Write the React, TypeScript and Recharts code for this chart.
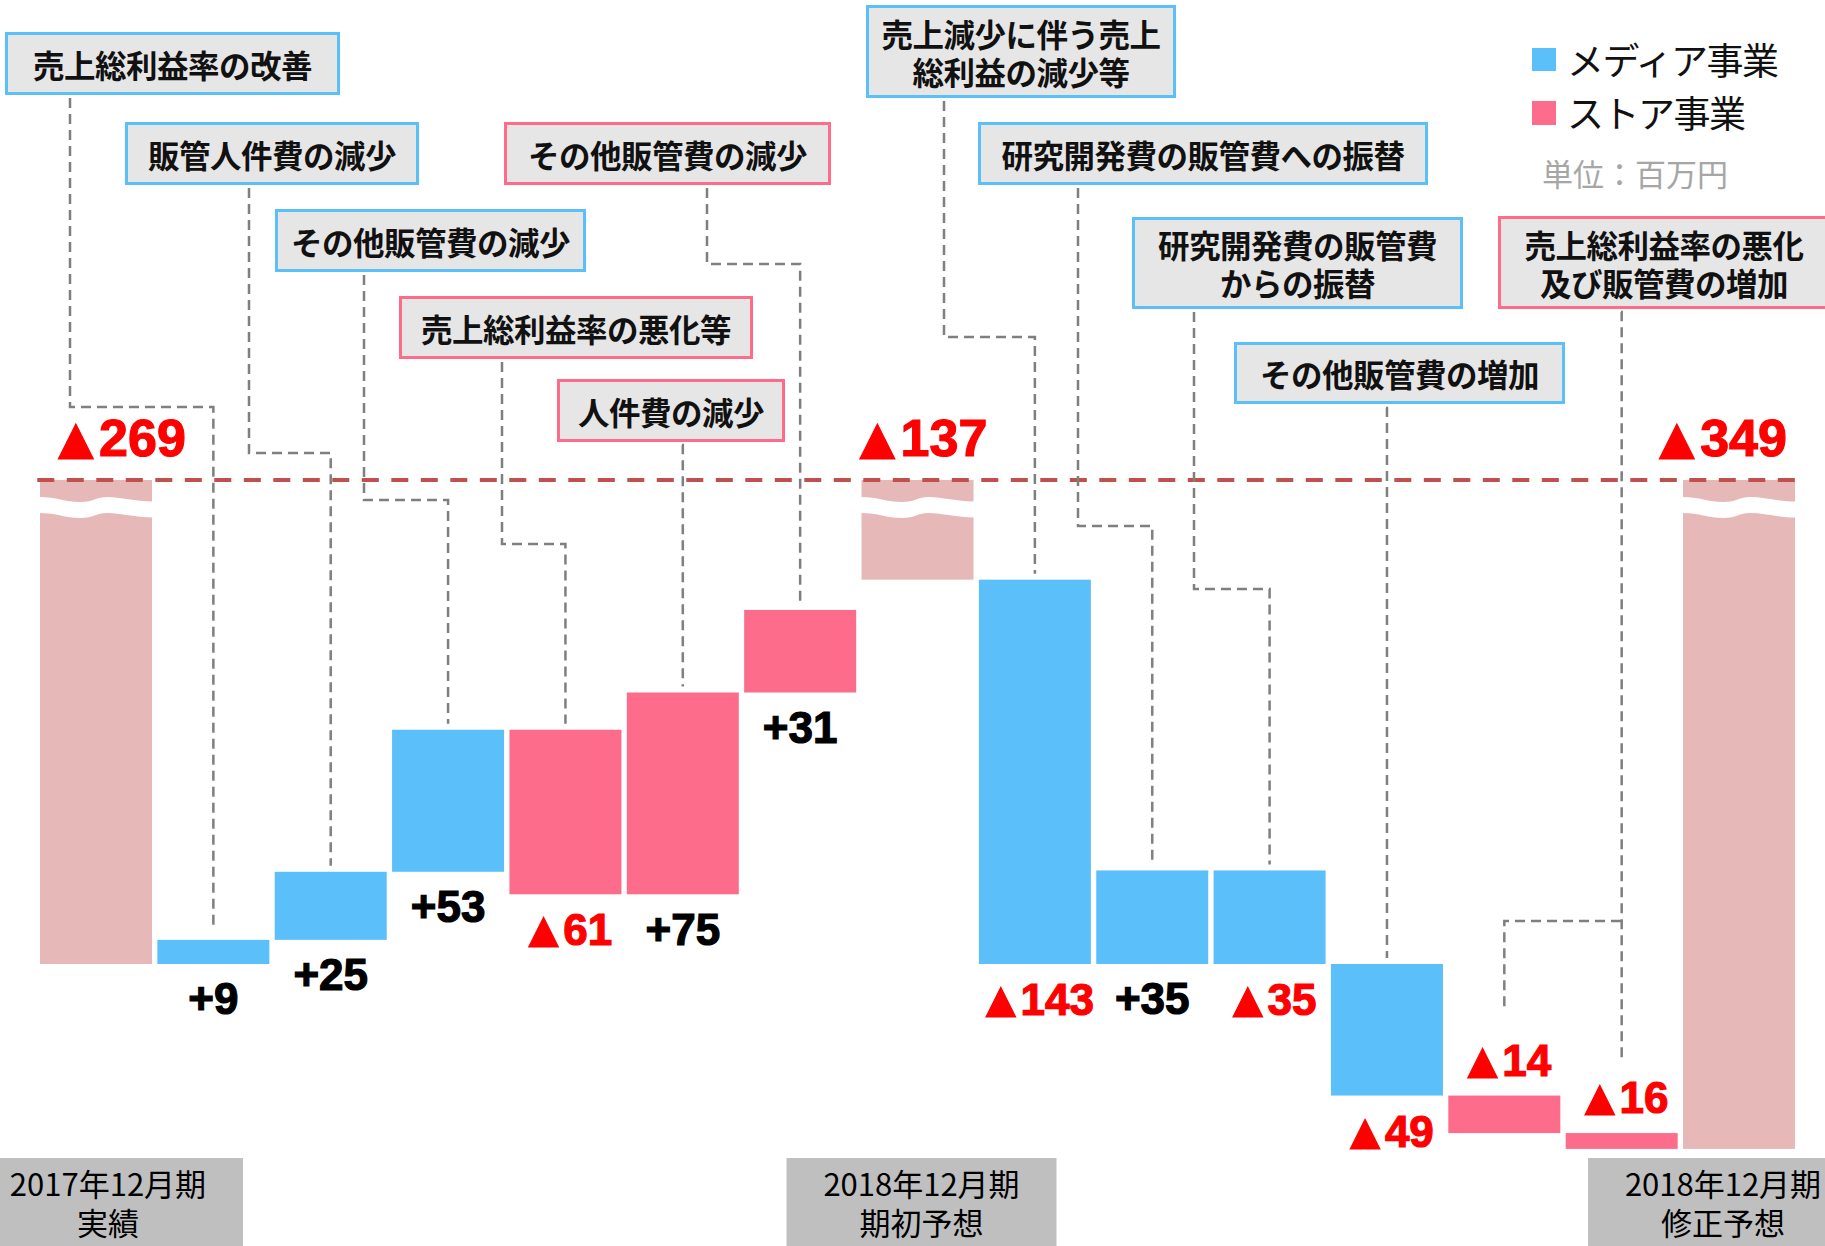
import { Bar, BarChart, LabelList, ReferenceLine, XAxis, YAxis } from "recharts";

// one entry per bar, left to right
const categories = [
  "2017年12月期|実績",
  "売上総利益率の改善",
  "販管人件費の減少",
  "その他販管費の減少",
  "売上総利益率の悪化等",
  "人件費の減少",
  "その他販管費の減少",
  "2018年12月期|期初予想",
  "売上減少に伴う売上総利益の減少等",
  "研究開発費の販管費への振替",
  "研究開発費の販管費からの振替",
  "その他販管費の増加",
  "売上総利益率の悪化",
  "販管費の増加",
  "2018年12月期|修正予想",
];
const segments = [
  "total", "media", "media", "media", "store", "store", "store", "total",
  "media", "media", "media", "media", "store", "store", "total",
];
const valueLabels = [
  "▲269", "+9", "+25", "+53", "▲61", "+75", "+31", "▲137",
  "▲143", "+35", "▲35", "▲49", "▲14", "▲16", "▲349",
];
// the totals are drawn broken at this level (the red dashed line)
const BREAK_LEVEL = -88.4;
// bar extents as drawn in the picture (百万円)
const lows = [
  -269, -269, -260, -234.6, -243, -243, -167.7, -125.6,
  -269, -269, -269, -318.1, -332.1, -338, -338,
];
const highs = [
  BREAK_LEVEL, -260, -234.6, -181.6, -181.6, -167.7, -136.9, BREAK_LEVEL,
  -125.6, -234.1, -234.1, -269, -318.1, -332.1, BREAK_LEVEL,
];

const COLORS: Record<string, string> = {
  media: "#5BC0F9",
  store: "#FD6C8B",
  total: "#E6B8B7",
};
const BORDER: Record<string, string> = {
  media: "#5BC0F8",
  store: "#FF6C8A",
};

const data = categories.map((name, i) => ({
  name,
  range: [lows[i], highs[i]],
  label: valueLabels[i],
  kind: segments[i],
}));

// callout boxes (page layout)
const BOXES = [
  { text: "売上総利益率の改善", kind: "media", left: 5, top: 32, width: 335, height: 63 },
  { text: "販管人件費の減少", kind: "media", left: 125, top: 122, width: 294, height: 63 },
  { text: "その他販管費の減少", kind: "media", left: 275, top: 209, width: 311, height: 63 },
  { text: "売上総利益率の悪化等", kind: "store", left: 399, top: 296, width: 354, height: 63 },
  { text: "人件費の減少", kind: "store", left: 557, top: 379, width: 228, height: 63 },
  { text: "その他販管費の減少", kind: "store", left: 504, top: 122, width: 327, height: 63 },
  { text: "売上減少に伴う売上\n総利益の減少等", kind: "media", left: 866, top: 5, width: 310, height: 93 },
  { text: "研究開発費の販管費への振替", kind: "media", left: 978, top: 122, width: 450, height: 63 },
  { text: "研究開発費の販管費\nからの振替", kind: "media", left: 1132, top: 217, width: 331, height: 92 },
  { text: "その他販管費の増加", kind: "media", left: 1234, top: 342, width: 331, height: 62 },
  { text: "売上総利益率の悪化\n及び販管費の増加", kind: "store", left: 1498, top: 216, width: 332, height: 93 },
];

// dashed leader from a box down to its bar: start point, elbow height, gap above bar top
const LEADERS: Record<number, { fx: number; fy: number; ey: number; gap: number }> = {
  1: { fx: 70, fy: 98, ey: 407, gap: 10 },
  2: { fx: 249, fy: 188, ey: 453, gap: 6 },
  3: { fx: 364, fy: 275, ey: 500, gap: 6 },
  4: { fx: 502, fy: 362, ey: 544, gap: 6 },
  5: { fx: 682, fy: 445, ey: 445, gap: 6 },
  6: { fx: 707, fy: 188, ey: 264, gap: 6 },
  8: { fx: 944, fy: 101, ey: 337, gap: 6 },
  9: { fx: 1078, fy: 188, ey: 526, gap: 6 },
  10: { fx: 1194, fy: 312, ey: 589, gap: 6 },
  11: { fx: 1386, fy: 408, ey: 408, gap: 6 },
  12: { fx: 1621, fy: 921, ey: 921, gap: 86 },
  13: { fx: 1621, fy: 312, ey: 312, gap: 74 },
};

const TICK_SHIFT: Record<number, number> = { 0: 12, 7: 4, 14: -16 };
const LABEL_SHIFT: Record<number, number> = { 0: 20, 14: -22 };

const NUM_FONT = "'Liberation Sans', Arial, sans-serif";
const JP_FONT = "'Noto Sans CJK JP', 'Noto Sans', sans-serif";

function geom(props: any) {
  const vb = props.viewBox && props.viewBox.width != null ? props.viewBox : props;
  const top = Math.min(vb.y, vb.y + vb.height);
  return { x: vb.x, top, width: vb.width, height: Math.abs(vb.height) };
}

function WaterfallBar(props: any) {
  const { x, width, payload } = props;
  const top = Math.min(props.y, props.y + props.height);
  const h = Math.abs(props.height);
  const fill = COLORS[payload.kind];
  if (payload.kind !== "total") {
    return <rect x={x} y={top} width={width} height={h} fill={fill} />;
  }
  const w = width;
  const t = top + 17;
  const b = t + 16;
  const wave =
    `M${x - 1},${t} C${x + 0.15 * w},${t} ${x + 0.22 * w},${t + 5} ${x + 0.36 * w},${t + 5} ` +
    `C${x + 0.48 * w},${t + 5} ${x + 0.5 * w},${t} ${x + 0.6 * w},${t} ` +
    `C${x + 0.72 * w},${t} ${x + 0.85 * w},${t + 4.5} ${x + w + 1},${t + 4.5} ` +
    `L${x + w + 1},${b + 4.5} ` +
    `C${x + 0.85 * w},${b + 4.5} ${x + 0.72 * w},${b} ${x + 0.6 * w},${b} ` +
    `C${x + 0.5 * w},${b} ${x + 0.48 * w},${b + 5} ${x + 0.36 * w},${b + 5} ` +
    `C${x + 0.22 * w},${b + 5} ${x + 0.15 * w},${b} ${x - 1},${b} Z`;
  return (
    <g>
      <rect x={x} y={top} width={width} height={h} fill={fill} />
      <path d={wave} fill="#ffffff" />
    </g>
  );
}

function ValueLabel(props: any) {
  const { index, value } = props;
  const g = geom(props);
  const kind = segments[index];
  const above = kind === "total" || index === 12 || index === 13;
  const big = kind === "total";
  const size = big ? 52 : 44;
  const cx = g.x + g.width / 2 + (LABEL_SHIFT[index] ?? 0);
  const cy = above ? g.top - (big ? 42 : 36) : g.top + g.height + 35;
  const text = String(value);
  const neg = text.startsWith("▲");
  const fill = neg ? "#FF0000" : "#000000";
  return (
    <text
      x={cx}
      y={cy}
      textAnchor="middle"
      dominantBaseline="central"
      fontFamily={NUM_FONT}
      fontWeight="bold"
      fontSize={size}
      fill={fill}
      stroke={fill}
      strokeWidth={1.2}
    >
      {neg ? (
        <>
          <tspan fontSize={size * 1.15}>▲</tspan>
          <tspan dx={-size * 0.12}>{text.slice(1)}</tspan>
        </>
      ) : (
        text
      )}
    </text>
  );
}

function Leader(props: any) {
  const { index } = props;
  const l = LEADERS[index];
  if (!l) return null;
  const g = geom(props);
  const cx = g.x + g.width / 2;
  const end = g.top - l.gap;
  return (
    <path
      d={`M${l.fx},${l.fy} V${l.ey} H${cx} V${end}`}
      fill="none"
      stroke="#7F7F7F"
      strokeWidth={2.5}
      strokeDasharray="10 6"
    />
  );
}

function PeriodTick(props: any) {
  const { x, y, payload } = props;
  const i = payload.index;
  if (segments[i] !== "total") return <g />;
  const [l1, l2] = String(payload.value).split("|");
  const cx = x + (TICK_SHIFT[i] ?? 0);
  return (
    <g>
      <rect x={cx - 135} y={y} width={270} height={88} fill="#BFBFBF" />
      <text x={cx} y={y + 24} textAnchor="middle" dominantBaseline="central" fontFamily={JP_FONT} fontSize={31} fill="#000">
        {l1}
      </text>
      <text x={cx} y={y + 63} textAnchor="middle" dominantBaseline="central" fontFamily={JP_FONT} fontSize={31} fill="#000">
        {l2}
      </text>
    </g>
  );
}

export default function App() {
  return (
    <div style={{ position: "absolute", left: 0, top: 0, width: 1825, height: 1246, background: "#fff", overflow: "hidden" }}>
      <BarChart
        width={1825}
        height={1246}
        data={data}
        margin={{ top: 0, right: 27.3, bottom: 0, left: 37.3 }}
        barCategoryGap={2.7}
      >
        <XAxis
          dataKey="name"
          height={88}
          axisLine={false}
          tickLine={false}
          tickSize={0}
          tickMargin={0}
          interval={0}
          tick={<PeriodTick />}
        />
        <YAxis hide type="number" domain={[-341.4, 90.7]} allowDataOverflow />
        <Bar dataKey="range" isAnimationActive={false} shape={<WaterfallBar />}>
          <LabelList dataKey="name" content={<Leader />} />
          <LabelList dataKey="label" content={<ValueLabel />} />
        </Bar>
        <ReferenceLine y={BREAK_LEVEL} stroke="#C0504D" strokeWidth={4} strokeDasharray="17 12.5" />
      </BarChart>

      {BOXES.map((b, i) => (
        <div
          key={i}
          style={{
            position: "absolute",
            left: b.left,
            top: b.top,
            width: b.width,
            height: b.height,
            boxSizing: "border-box",
            border: `3.5px solid ${BORDER[b.kind]}`,
            background: "#E7E6E6",
            display: "flex",
            alignItems: "center",
            justifyContent: "center",
            textAlign: "center",
            whiteSpace: "pre-line",
            fontFamily: JP_FONT,
            fontWeight: 700,
            fontSize: 31.5,
            letterSpacing: -0.5,
            lineHeight: "38px",
            color: "#111",
          }}
        >
          {b.text}
        </div>
      ))}

      <div style={{ position: "absolute", left: 1532, top: 33, fontFamily: JP_FONT, fontSize: 37, letterSpacing: -1.5, lineHeight: "53px", color: "#111" }}>
        <div style={{ display: "flex", alignItems: "center" }}>
          <span style={{ display: "inline-block", width: 24, height: 23, background: COLORS.media, marginRight: 11 }} />
          メディア事業
        </div>
        <div style={{ display: "flex", alignItems: "center" }}>
          <span style={{ display: "inline-block", width: 24, height: 24, background: COLORS.store, marginRight: 11 }} />
          ストア事業
        </div>
      </div>
      <div style={{ position: "absolute", left: 1542, top: 153, fontFamily: JP_FONT, fontSize: 31, lineHeight: "40px", color: "#A6A6A6" }}>
        単位：百万円
      </div>
    </div>
  );
}
